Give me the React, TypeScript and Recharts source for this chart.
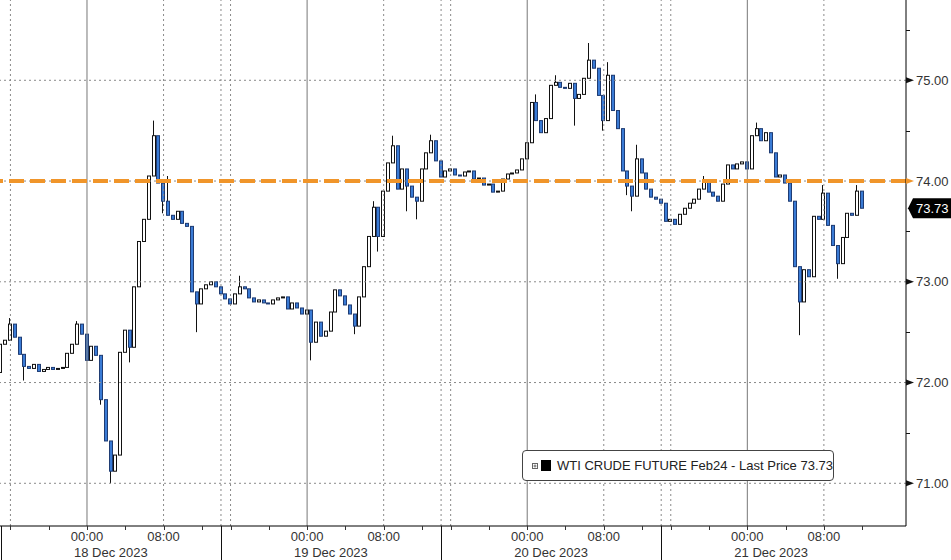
import React from "react";
import { Bar, ComposedChart, ReferenceLine, XAxis, YAxis } from "recharts";

const FONT = "'Liberation Sans', Arial, sans-serif";

// 30-minute bars. x is trading hours counted from 00:00 on 18 Dec,
// with the one-hour daily break left out (as the terminal draws it).
const firstBarHour = -9;
const barStep = 0.5;
const firstOpen = 72.1;

const closes = [
  72.38, 72.42, 72.58, 72.45, 72.28, 72.16, 72.14, 72.18, 72.11, 72.13,
  72.15, 72.13, 72.14, 72.15, 72.29, 72.38, 72.58, 72.48, 72.22, 72.36,
  72.27, 71.83, 71.42, 71.12, 71.28, 72.3, 72.52, 72.35, 72.95, 73.4,
  73.62, 74.05, 74.45, 73.98, 73.8, 73.66, 73.62, 73.7, 73.58, 73.55,
  72.9, 72.78, 72.93, 72.97, 73.0, 72.95, 72.88, 72.83, 72.78, 72.88,
  72.95, 72.93, 72.84, 72.8, 72.82, 72.79, 72.78, 72.82, 72.84, 72.85,
  72.73, 72.79, 72.74, 72.68, 72.72, 72.4, 72.6, 72.46, 72.51, 72.7,
  72.92, 72.86, 72.77, 72.68, 72.56, 72.85, 73.15, 73.45, 73.74, 73.45,
  73.9, 74.18, 74.35, 73.92, 74.12, 73.95, 73.84, 73.8, 74.12, 74.28,
  74.4, 74.2, 74.04, 74.1, 74.12, 74.06, 74.05, 74.09, 74.1, 74.02,
  74.03, 73.96, 73.97, 73.89, 73.9, 74.02, 74.07, 74.08, 74.11, 74.22,
  74.38, 74.78, 74.6, 74.48, 74.62, 74.95, 74.98, 74.93, 74.92, 74.97,
  74.82, 74.86, 75.02, 75.2, 75.12, 74.85, 74.6, 75.05, 74.7, 74.52,
  74.1, 73.95, 73.85, 74.22, 74.08, 73.92, 73.84, 73.82, 73.78, 73.6,
  73.62, 73.57, 73.67, 73.73, 73.78, 73.82, 73.92, 74.0, 73.89, 73.85,
  73.8, 73.97, 74.16, 74.12, 74.17, 74.19, 74.12, 74.45, 74.52, 74.4,
  74.48, 74.28, 74.04, 74.06, 73.98, 73.8, 73.15, 72.8, 73.12, 73.05,
  73.65, 73.62, 73.88, 73.56, 73.36, 73.18, 73.44, 73.68, 73.66, 73.9,
  73.73,
];

// wick extremes that stick out past the bodies, by bar index
const wickHighs: Record<number, number> = {
  2: 72.64, 16: 72.61, 32: 74.6, 33: 74.12, 35: 74.05, 50: 73.06, 78: 73.8,
  82: 74.45, 90: 74.46, 112: 74.86, 116: 75.05, 123: 75.37, 127: 75.18,
  133: 74.36, 147: 74.05, 158: 74.58, 172: 73.96, 179: 73.96,
};
const wickLows: Record<number, number> = {
  0: 72.06, 5: 72.02, 21: 71.78, 23: 71.0, 27: 72.2, 34: 73.68, 41: 72.5,
  65: 72.22, 74: 72.48, 79: 73.3, 85: 73.7, 87: 73.62, 120: 74.55, 126: 74.5,
  131: 73.86, 132: 73.7, 167: 72.47, 175: 73.03,
};

const dayStarts = [0, 23, 46, 69];
const dayLabels = ["18 Dec 2023", "19 Dec 2023", "20 Dec 2023", "21 Dec 2023"];
const morningTicks = [8, 31, 54, 77];
const sessionBreaks = [-9, 14, 37, 60];
const minorTicks = [-8, -4, 4, 12, 15, 19, 27, 35, 38, 42, 50, 58, 61, 65, 73, 81];
const dottedHours = [-8, 8, 14, 15, 31, 37, 38, 54, 60, 61, 77];

const priceMajor = [71, 72, 73, 74, 75];
const priceMinor = [71.5, 72.5, 73.5, 74.5, 75.5];
const resistance = 74;

const bars = closes.map((close, i) => {
  const open = i === 0 ? firstOpen : closes[i - 1];
  return {
    hour: firstBarHour + i * barStep,
    open,
    close,
    high: wickHighs[i] ?? Math.max(open, close),
    low: wickLows[i] ?? Math.min(open, close),
  };
});
const lastPrice = closes[closes.length - 1];

const xTicks = [...sessionBreaks, ...minorTicks, ...dayStarts, ...morningTicks].sort((a, b) => a - b);
const yTicks = [...priceMajor, ...priceMinor, lastPrice];

function Candle(props: any) {
  const { x, y, width, height, payload } = props;
  if (!payload || height == null) return null;
  const { open, close, high, low } = payload;
  const cx = Math.round(x + width / 2);
  const span = high - low;
  const k = span > 0 ? height / span : 0;
  const at = (v: number) => y + (high - v) * k;
  const top = at(Math.max(open, close));
  const bottom = at(Math.min(open, close));
  const up = close >= open;
  return (
    <g>
      <line x1={cx - 0.5} x2={cx - 0.5} y1={y} y2={y + height} stroke="#111" />
      <rect
        x={cx - 1.5}
        y={top}
        width={3}
        height={Math.max(bottom - top, 1)}
        fill={up ? "#fff" : "#3a7bd5"}
        stroke={up ? "#111" : "#1f3c73"}
        strokeWidth={1}
      />
    </g>
  );
}

function TimeTick({ x, y, payload }: any) {
  const v = payload.value;
  const px = Math.round(x) + 0.5;
  if (sessionBreaks.includes(v)) {
    return <line x1={px} x2={px} y1={y} y2={y + 34} stroke="#111" />;
  }
  const day = dayStarts.indexOf(v);
  const morning = morningTicks.includes(v);
  return (
    <g>
      <line x1={px} x2={px} y1={y} y2={y + 4} stroke="#333" />
      {day >= 0 && (
        <>
          <text x={x} y={y + 15} textAnchor="middle" fontSize={13} fill="#333" fontFamily={FONT}>
            00:00
          </text>
          <text x={x - 13} y={y + 31} textAnchor="start" fontSize={13} fill="#333" fontFamily={FONT}>
            {dayLabels[day]}
          </text>
        </>
      )}
      {morning && (
        <text x={x} y={y + 15} textAnchor="middle" fontSize={13} fill="#333" fontFamily={FONT}>
          08:00
        </text>
      )}
    </g>
  );
}

function PriceTick({ x, y, payload }: any) {
  const v = payload.value;
  if (v === lastPrice) {
    return (
      <g>
        <path d={`M${x + 2},${y} L${x + 7},${y - 10} L${x + 45},${y - 10} L${x + 45},${y + 10} L${x + 7},${y + 10} Z`} fill="#000" />
        <text x={x + 10} y={y + 4.5} fontSize={13} fill="#fff" fontFamily={FONT}>
          {v.toFixed(2)}
        </text>
      </g>
    );
  }
  if (priceMajor.includes(v)) {
    return (
      <g>
        <path d={`M${x},${y - 3} L${x + 8},${y} L${x},${y + 3} Z`} fill={v === resistance ? "#f0952a" : "#111"} />
        <text x={x + 10} y={y + 4.5} fontSize={13} fill="#333" fontFamily={FONT}>
          {v.toFixed(2)}
        </text>
      </g>
    );
  }
  const py = Math.round(y) + 0.5;
  return <line x1={x} x2={x + 4} y1={py} y2={py} stroke="#111" />;
}

export default function App() {
  return (
    <div style={{ position: "absolute", left: 0, top: 0, width: 951, height: 560, background: "#fff", fontFamily: FONT }}>
      <ComposedChart width={951} height={560} data={bars} margin={{ top: 0, right: 0, bottom: 0, left: 0 }}>
        <XAxis
          dataKey="hour"
          type="number"
          domain={[-9.09, 85.58]}
          allowDataOverflow
          ticks={xTicks}
          interval={0}
          height={34}
          tickSize={0}
          tickMargin={0}
          tickLine={false}
          axisLine={{ stroke: "#000" }}
          tick={<TimeTick />}
        />
        <YAxis
          orientation="right"
          type="number"
          domain={[70.576, 75.797]}
          allowDataOverflow
          ticks={yTicks}
          interval={0}
          width={45}
          tickSize={0}
          tickMargin={0}
          tickLine={false}
          axisLine={{ stroke: "#000" }}
          tick={<PriceTick />}
        />
        {priceMajor.map((p) => (
          <ReferenceLine key={`h${p}`} y={p} stroke="#8a8a8a" strokeDasharray="2 3" />
        ))}
        {dottedHours.map((h) => (
          <ReferenceLine key={`v${h}`} x={h} stroke="#8a8a8a" strokeDasharray="2 3" />
        ))}
        {dayStarts.map((h) => (
          <ReferenceLine key={`d${h}`} x={h} stroke="#777" />
        ))}
        <ReferenceLine y={resistance} stroke="#f0952a" strokeWidth={4} strokeDasharray="15 6" />
        <Bar
          dataKey={(d: any) => [d.low, d.high]}
          shape={(p: any) => <Candle {...p} />}
          barSize={4}
          isAnimationActive={false}
        />
      </ComposedChart>
      <div
        style={{
          position: "absolute",
          left: 522,
          top: 450,
          width: 312,
          height: 31,
          boxSizing: "border-box",
          border: "1px solid #444",
          borderRadius: 4,
          background: "#fff",
          display: "flex",
          alignItems: "center",
          fontSize: 13,
          color: "#222",
          whiteSpace: "nowrap",
        }}
      >
        <svg width={6} height={6} style={{ marginLeft: 9 }}>
          <rect x={0.5} y={0.5} width={5} height={5} fill="#fff" stroke="#666" />
          <line x1={1.5} x2={4.5} y1={3} y2={3} stroke="#666" />
          <line x1={3} x2={3} y1={1.5} y2={4.5} stroke="#666" />
        </svg>
        <span style={{ display: "inline-block", width: 11, height: 11, background: "#000", marginLeft: 3 }} />
        <span style={{ marginLeft: 6 }}>WTI CRUDE FUTURE Feb24 - Last Price {lastPrice.toFixed(2)}</span>
      </div>
    </div>
  );
}
